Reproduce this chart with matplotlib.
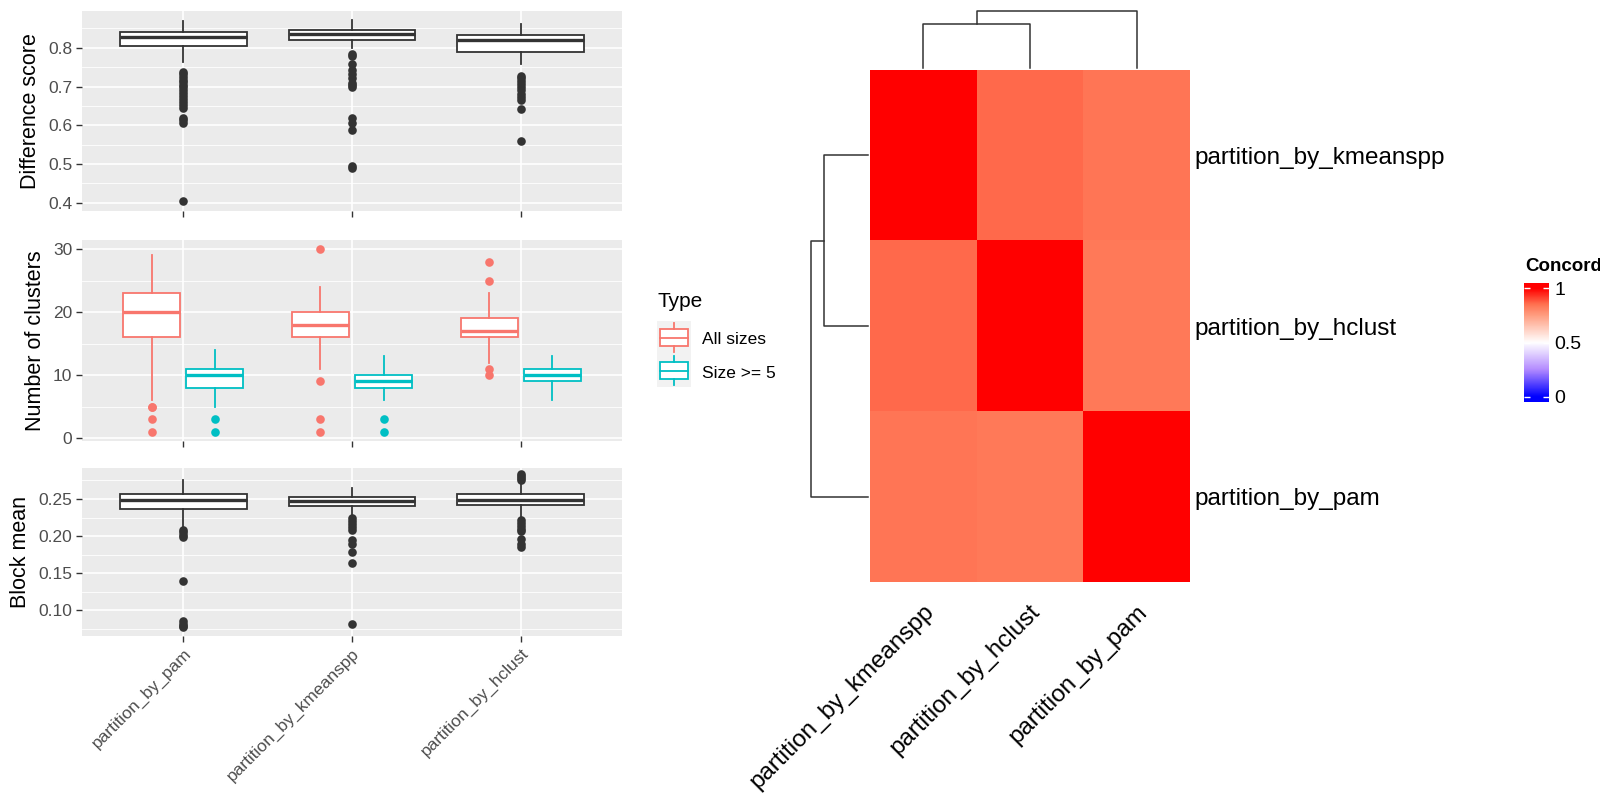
import numpy as np
import matplotlib
matplotlib.use("Agg")
import matplotlib.pyplot as plt
from matplotlib.colors import LinearSegmentedColormap
from matplotlib.patches import Rectangle
from matplotlib.transforms import ScaledTranslation

plt.rcParams["font.family"] = ["Liberation Sans", "DejaVu Sans"]

# data ##########################################################################

methods = ["partition_by_pam", "partition_by_kmeanspp", "partition_by_hclust"]

# difference score
diff_q1 = [0.804, 0.821, 0.790]
diff_med = [0.827, 0.835, 0.821]
diff_q3 = [0.842, 0.847, 0.833]
diff_lo = [0.763, 0.799, 0.758]
diff_hi = [0.870, 0.872, 0.862]
diff_out = [
    [0.738, 0.732, 0.725, 0.718, 0.712, 0.705, 0.698, 0.690, 0.683, 0.675,
     0.668, 0.660, 0.652, 0.645, 0.620, 0.613, 0.607, 0.405],
    [0.783, 0.778, 0.758, 0.742, 0.733, 0.722, 0.710, 0.703, 0.700, 0.620,
     0.605, 0.587, 0.495, 0.490],
    [0.728, 0.722, 0.715, 0.707, 0.700, 0.690, 0.680, 0.672, 0.665, 0.643, 0.560],
]

# number of clusters, all sizes
ncl_all_q1 = [16, 16, 16]
ncl_all_med = [20, 18, 17]
ncl_all_q3 = [23, 20, 19]
ncl_all_lo = [6, 11, 12]
ncl_all_hi = [29, 24, 23]
ncl_all_out = [[5, 5, 3, 1], [30, 9, 3, 1], [28, 25, 11, 10]]

# number of clusters, size >= 5
ncl_big_q1 = [8, 8, 9]
ncl_big_med = [10, 9, 10]
ncl_big_q3 = [11, 10, 11]
ncl_big_lo = [5, 6, 6]
ncl_big_hi = [14, 13, 13]
ncl_big_out = [[3, 1], [3, 1], []]

# block mean
blk_q1 = [0.2365, 0.2406, 0.2415]
blk_med = [0.2487, 0.2473, 0.2487]
blk_q3 = [0.2563, 0.2531, 0.2567]
blk_lo = [0.2127, 0.2284, 0.2261]
blk_hi = [0.2756, 0.2644, 0.2711]
blk_out = [
    [0.208, 0.205, 0.202, 0.199, 0.140, 0.085, 0.082, 0.079, 0.077],
    [0.224, 0.220, 0.216, 0.212, 0.208, 0.195, 0.190, 0.178, 0.164, 0.081],
    [0.284, 0.281, 0.278, 0.275, 0.222, 0.218, 0.214, 0.210, 0.207, 0.196,
     0.190, 0.186],
]

type_labels = ["All sizes", "Size >= 5"]

# concordance heatmap (ordered as in the dendrogram)
hm_names = ["partition_by_kmeanspp", "partition_by_hclust", "partition_by_pam"]
concordance = [
    [1.00, 0.86, 0.84],
    [0.86, 1.00, 0.835],
    [0.84, 0.835, 1.00],
]
# merges: (left node, right node, height); nodes 0..2 leaves, 3.. merged
merges = [(0, 1, 0.77), (3, 2, 1.0)]

# style #########################################################################

W, H = 1600, 800
BG = "#EBEBEB"
DARK = "#333333"
TICKTXT = "#4D4D4D"
RED = "#F8766D"
TEAL = "#00BFC4"

fig = plt.figure(figsize=(16, 8), dpi=100)


def px_axes(x0, y0, x1, y1):
    return fig.add_axes([x0 / W, 1 - y1 / H, (x1 - x0) / W, (y1 - y0) / H])


def stats(q1, med, q3, lo, hi, out):
    return [dict(q1=a, med=b, q3=c, whislo=d, whishi=e, fliers=f)
            for a, b, c, d, e, f in zip(q1, med, q3, lo, hi, out)]


def gg_panel(ax, ylim, majors, minors, ylabel):
    ax.set_facecolor(BG)
    for s in ax.spines.values():
        s.set_visible(False)
    ax.set_xlim(0.4, len(methods) + 0.6)
    ax.set_ylim(*ylim)
    ax.set_yticks(majors)
    ax.set_yticks(minors, minor=True)
    ax.set_xticks(range(1, len(methods) + 1))
    ax.grid(True, which="major", color="white", lw=1.2)
    ax.grid(True, which="minor", axis="y", color="white", lw=0.6)
    ax.set_axisbelow(True)
    ax.tick_params(which="major", color=DARK, length=4, width=1,
                   labelsize=12.5, labelcolor=TICKTXT, pad=3)
    ax.tick_params(which="minor", length=0)
    ax.set_ylabel(ylabel, fontsize=15.5, labelpad=5)


def draw_boxes(ax, st, pos, width, color, medlw=2.4):
    ax.bxp(st, positions=pos, widths=width, patch_artist=True, showcaps=False,
           boxprops=dict(facecolor="white", edgecolor=color, lw=1.3),
           medianprops=dict(color=color, lw=medlw),
           whiskerprops=dict(color=color, lw=1.3),
           flierprops=dict(marker="o", markerfacecolor=color,
                           markeredgecolor="none", markersize=6.2),
           manage_ticks=False)


xpos = np.arange(1, len(methods) + 1)

# top: difference score
ax1 = px_axes(82, 11, 622, 211)
gg_panel(ax1, (0.379, 0.895), [0.4, 0.5, 0.6, 0.7, 0.8],
         [0.45, 0.55, 0.65, 0.75, 0.85], "Difference score")
draw_boxes(ax1, stats(diff_q1, diff_med, diff_q3, diff_lo, diff_hi, diff_out),
           xpos, 0.75, DARK)
ax1.set_yticklabels(["0.4", "0.5", "0.6", "0.7", "0.8"])
ax1.set_xticklabels([])

# middle: number of clusters
ax2 = px_axes(82, 240, 622, 441)
gg_panel(ax2, (-0.45, 31.45), [0, 10, 20, 30], [5, 15, 25], "Number of clusters")
draw_boxes(ax2, stats(ncl_all_q1, ncl_all_med, ncl_all_q3, ncl_all_lo,
                      ncl_all_hi, ncl_all_out), xpos - 0.1875, 0.3375, RED)
draw_boxes(ax2, stats(ncl_big_q1, ncl_big_med, ncl_big_q3, ncl_big_lo,
                      ncl_big_hi, ncl_big_out), xpos + 0.1875, 0.3375, TEAL)
ax2.set_xticklabels([])

# bottom: block mean
ax3 = px_axes(82, 468, 622, 636)
gg_panel(ax3, (0.0654, 0.2918), [0.10, 0.15, 0.20, 0.25],
         [0.075, 0.125, 0.175, 0.225, 0.275], "Block mean")
draw_boxes(ax3, stats(blk_q1, blk_med, blk_q3, blk_lo, blk_hi, blk_out),
           xpos, 0.75, DARK)
ax3.set_yticklabels(["0.10", "0.15", "0.20", "0.25"])
ax3.set_xticklabels(methods, rotation=45, ha="right", va="top",
                    rotation_mode="anchor")

# legend for the type
fig.text(658 / W, 1 - 302 / H, "Type", fontsize=15, ha="left", va="center")
lg = px_axes(657, 321, 691, 387)
lg.set_xlim(0, 1)
lg.set_ylim(len(type_labels), 0)
lg.axis("off")
lg.add_patch(Rectangle((0, 0), 1, len(type_labels), color="#F2F2F2", zorder=0))
for i, (lab, col) in enumerate(zip(type_labels, [RED, TEAL])):
    lg.plot([0.5, 0.5], [i + 0.05, i + 0.25], color=col, lw=1.3)
    lg.plot([0.5, 0.5], [i + 0.75, i + 0.95], color=col, lw=1.3)
    lg.add_patch(Rectangle((0.1, i + 0.25), 0.8, 0.5, facecolor="white",
                           edgecolor=col, lw=1.3))
    lg.plot([0.1, 0.9], [i + 0.5, i + 0.5], color=col, lw=1.3)
    fig.text(702 / W, 1 - (339 + 34 * i) / H, lab, fontsize=12.5,
             ha="left", va="center")

# heatmap #######################################################################

cmap = LinearSegmentedColormap.from_list(
    "conc", [(0, "#0000FF"), (0.25, "#B38BFF"), (0.5, "#FFFFFF"),
             (0.75, "#FF9E81"), (0.85, "#FF7352"), (1, "#FF0000")])

n = len(hm_names)
hm = px_axes(870, 70, 1190, 582)
hm.imshow(np.array(concordance), cmap=cmap, vmin=0, vmax=1, aspect="auto",
          interpolation="nearest")
for s in hm.spines.values():
    s.set_visible(False)
hm.set_xticks(range(n))
hm.set_yticks(range(n))
hm.yaxis.tick_right()
hm.set_yticklabels(hm_names, fontsize=17.5)
hm.set_xticklabels(hm_names, fontsize=17.5, rotation=45, ha="right",
                   va="center", rotation_mode="anchor")
hm.tick_params(length=0)
hm.tick_params(axis="y", pad=3)
hm.tick_params(axis="x", pad=19)
shift = ScaledTranslation(7 / 100, 0, fig.dpi_scale_trans)
for lbl in hm.get_xticklabels():
    lbl.set_transform(lbl.get_transform() + shift)


def dendro(ax, horizontal):
    pos = {i: float(i) for i in range(n)}
    ht = {i: 0.0 for i in range(n)}
    for k, (a, b, h) in enumerate(merges):
        xs = [pos[a], pos[a], pos[b], pos[b]]
        ys = [ht[a], h, h, ht[b]]
        if horizontal:
            ax.plot(ys, xs, color=DARK, lw=1.1, clip_on=False)
        else:
            ax.plot(xs, ys, color=DARK, lw=1.1, clip_on=False)
        pos[n + k] = (pos[a] + pos[b]) / 2
        ht[n + k] = h
    ax.axis("off")


top = max(h for _, _, h in merges)
cd = px_axes(870, 11, 1190, 68)
dendro(cd, False)
cd.set_xlim(-0.5, n - 0.5)
cd.set_ylim(0, top)

rd = px_axes(811, 70, 868, 582)
dendro(rd, True)
rd.set_xlim(top, 0)
rd.set_ylim(n - 0.5, -0.5)

# colour bar
cb = px_axes(1524, 283, 1549, 402)
grad = np.linspace(1.046, -0.046, 256)[:, None]
cb.imshow(grad, cmap=cmap, vmin=0, vmax=1, aspect="auto",
          extent=[0, 1, -0.046, 1.046])
cb.set_xlim(0, 1)
cb.set_ylim(-0.046, 1.046)
for s in cb.spines.values():
    s.set_visible(False)
cb.set_xticks([])
cb.set_yticks([0, 0.5, 1])
cb.set_yticklabels(["0", "0.5", "1"])
cb.tick_params(axis="y", direction="in", color="white", length=4, width=1,
               left=True, right=True, labelleft=False, labelright=True,
               labelsize=14, pad=4)
fig.text(1525 / W, 1 - 271 / H, "Concordance", fontsize=13.5, fontweight="bold",
         ha="left", va="baseline")

fig.savefig("out.png", dpi=100)
